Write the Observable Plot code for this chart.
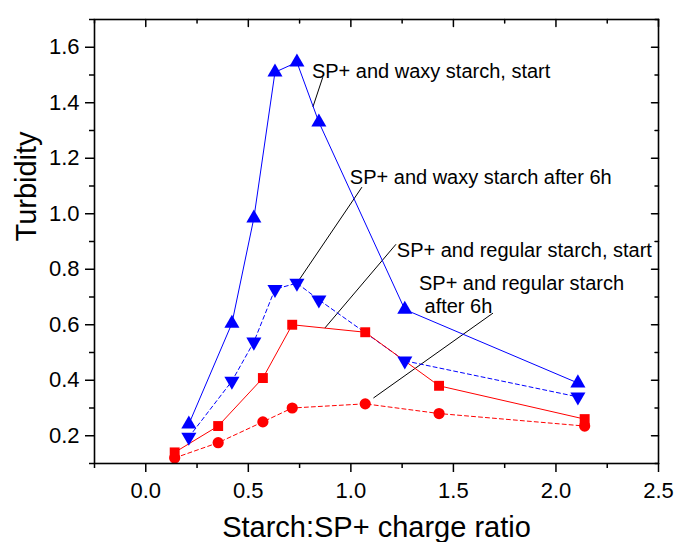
<!DOCTYPE html>
<html>
<head>
<meta charset="utf-8">
<script src="https://cdn.jsdelivr.net/npm/d3@7"></script>
<script src="https://cdn.jsdelivr.net/npm/@observablehq/plot@0.6"></script>
<style>
  body { margin: 0; background: #fff; }
</style>
</head>
<body>
<div id="chart"></div>
<script>
// Charge ratios (starch:SP+) for the two starch types
const waxyX = [0.21, 0.42, 0.527, 0.63, 0.737, 0.844, 1.263, 2.107];
const regularX = [0.141, 0.353, 0.571, 0.714, 1.07, 1.43, 2.14];

// Turbidity readings
const waxyStart = [0.242, 0.605, 0.984, 1.51, 1.546, 1.33, 0.655, 0.39];
const waxy6h = [0.195, 0.397, 0.538, 0.728, 0.75, 0.69, 0.47, 0.34];
const regularStart = [0.14, 0.235, 0.408, 0.60, 0.573, 0.38, 0.26];
const regular6h = [0.12, 0.175, 0.25, 0.30, 0.315, 0.28, 0.235];

// Axis ticks
const xMajor = [0, 0.5, 1, 1.5, 2, 2.5];
const xMinor = [-0.25, 0.25, 0.75, 1.25, 1.75, 2.25];
const yMajor = [0.2, 0.4, 0.6, 0.8, 1.0, 1.2, 1.4, 1.6];
const yMinor = [0.1, 0.3, 0.5, 0.7, 0.9, 1.1, 1.3, 1.5, 1.7];

const xTitle = "Starch:SP+ charge ratio";
const yTitle = "Turbidity";

// Series names
const names = [
  "SP+ and waxy starch, start",
  "SP+ and waxy starch after 6h",
  "SP+ and regular starch, start",
  "SP+ and regular starch\n after 6h"
];

// Drawing style for each series
const series = [
  {name: names[0], xs: waxyX, ys: waxyStart, color: "#0000ff", dash: null, symbol: "triangle", rotate: 0},
  {name: names[1], xs: waxyX, ys: waxy6h, color: "#0000ff", dash: "4,3", symbol: "triangle", rotate: 180},
  {name: names[2], xs: regularX, ys: regularStart, color: "#ff0000", dash: null, symbol: "square", rotate: 0},
  {name: names[3], xs: regularX, ys: regular6h, color: "#ff0000", dash: "4,3", symbol: "circle", rotate: 0}
];

// Callout labels: text position and the leader line from the label to its curve
const callouts = [
  {text: names[0], x: 0.81, y: 1.517, x1: 0.863, y1: 1.492, x2: 0.815, y2: 1.385},
  {text: names[1], x: 0.995, y: 1.132, x1: 1.054, y1: 1.096, x2: 0.737, y2: 0.75},
  {text: names[2], x: 1.224, y: 0.869, x1: 1.22, y1: 0.89, x2: 0.873, y2: 0.588},
  {text: names[3], x: 1.332, y: 0.712, x1: 1.693, y1: 0.642, x2: 1.11, y2: 0.336}
];

const rowsOf = s => s.xs.map((x, i) => ({x, y: s.ys[i], series: s.name}));

// Short tick drawn along the vector direction
const tickShape = {draw(context, l) { context.moveTo(0, 0); context.lineTo(0, -l); }};

const marks = [];

// Leader lines
marks.push(Plot.link(callouts, {x1: "x1", y1: "y1", x2: "x2", y2: "y2", stroke: "black", strokeWidth: 1}));

// Lines and markers
for (const s of series) {
  const rows = rowsOf(s);
  marks.push(Plot.line(rows, {x: "x", y: "y", stroke: s.color, strokeWidth: 1, strokeDasharray: s.dash}));
}
for (const s of series) {
  const rows = rowsOf(s);
  marks.push(Plot.dot(rows, {x: "x", y: "y", symbol: s.symbol, r: 5.6, fill: s.color, stroke: "none", rotate: s.rotate}));
}

// Callout text
marks.push(Plot.text(callouts, {x: "x", y: "y", text: "text", textAnchor: "start", lineAnchor: "middle", lineHeight: 1.15, fontSize: 20, fill: "black"}));

// Outer ticks on the bottom and left
marks.push(Plot.axisX(xMajor, {tickSize: 9, tickPadding: 10, strokeWidth: 1.5, fontSize: 22, tickFormat: d3.format(".1f"), label: null}));
marks.push(Plot.axisX(xMinor, {tickSize: 5, strokeWidth: 1.5, tickFormat: () => "", label: null}));
marks.push(Plot.axisY(yMajor, {tickSize: 9, tickPadding: 6, strokeWidth: 1.5, fontSize: 22, tickFormat: d3.format(".1f"), label: null}));
marks.push(Plot.axisY(yMinor, {tickSize: 5, strokeWidth: 1.5, tickFormat: () => "", label: null}));

// Inner ticks on the top and right
marks.push(Plot.vector(xMajor, {x: d => d, frameAnchor: "top", rotate: 180, length: 7, anchor: "start", shape: tickShape, stroke: "black", strokeWidth: 1.5}));
marks.push(Plot.vector(xMinor, {x: d => d, frameAnchor: "top", rotate: 180, length: 3.5, anchor: "start", shape: tickShape, stroke: "black", strokeWidth: 1.5}));
marks.push(Plot.vector(yMajor, {y: d => d, frameAnchor: "right", rotate: -90, length: 7, anchor: "start", shape: tickShape, stroke: "black", strokeWidth: 1.5}));
marks.push(Plot.vector(yMinor, {y: d => d, frameAnchor: "right", rotate: -90, length: 3.5, anchor: "start", shape: tickShape, stroke: "black", strokeWidth: 1.5}));

// Axis titles
marks.push(Plot.text([xTitle], {text: d => d, frameAnchor: "bottom", dy: 73, lineAnchor: "bottom", fontSize: 29, fill: "black"}));
marks.push(Plot.text([yTitle], {text: d => d, frameAnchor: "left", dx: -79, rotate: -90, lineAnchor: "top", fontSize: 29, fill: "black"}));

marks.push(Plot.frame({stroke: "black", strokeWidth: 1.6}));

const chart = Plot.plot({
  width: 674,
  height: 542,
  marginLeft: 94,
  marginRight: 16,
  marginTop: 19,
  marginBottom: 79,
  x: {domain: [-0.25, 2.5]},
  y: {domain: [0.1, 1.7]},
  style: {fontFamily: "'Liberation Sans', Arial, sans-serif", color: "black", background: "white", overflow: "visible"},
  marks
});
document.getElementById("chart").appendChild(chart);
</script>
</body>
</html>
